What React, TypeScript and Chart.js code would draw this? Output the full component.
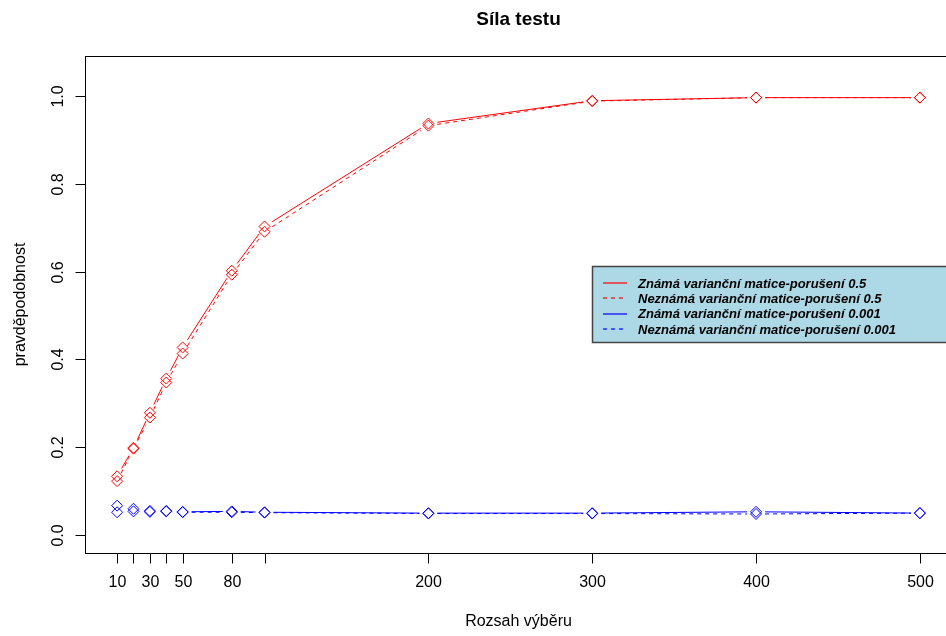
import React, { useEffect, useRef } from 'react';
import { Chart, registerables } from 'chart.js';

Chart.register(...registerables);

const sampleSizes = [10, 20, 30, 40, 50, 80, 100, 200, 300, 400, 500];
const knownHalf = [0.133, 0.198, 0.278, 0.356, 0.427, 0.602, 0.703, 0.938, 0.99, 0.997, 0.997];
const unknownHalf = [0.122, 0.196, 0.267, 0.347, 0.413, 0.593, 0.691, 0.933, 0.989, 0.997, 0.997];
const knownSmall = [0.066, 0.059, 0.054, 0.054, 0.052, 0.053, 0.051, 0.049, 0.049, 0.052, 0.049];
const unknownSmall = [0.051, 0.053, 0.052, 0.053, 0.051, 0.051, 0.05, 0.048, 0.048, 0.047, 0.049];

const xTicks = [10, 20, 30, 40, 50, 80, 100, 200, 300, 400, 500];
const xTickLabels = ['10', '', '30', '', '50', '80', '', '200', '300', '400', '500'];
const yTicks = [0, 0.2, 0.4, 0.6, 0.8, 1.0];
const yTickLabels = ['0.0', '0.2', '0.4', '0.6', '0.8', '1.0'];

const seriesLabels = [
  'Známá varianční matice-porušení 0.5',
  'Neznámá varianční matice-porušení 0.5',
  'Známá varianční matice-porušení 0.001',
  'Neznámá varianční matice-porušení 0.001',
];
const titleText = 'Síla testu';
const xTitle = 'Rozsah výběru';
const yTitle = 'pravděpodobnost';

const RED = 'rgb(255,0,0)';
const BLUE = 'rgb(0,0,255)';
const seriesColors = [RED, RED, BLUE, BLUE];
const seriesDashes = [[], [4, 4], [], [4, 4]];
const FONT = '"Liberation Sans", Arial, sans-serif';
const GAP = 9;

const gapLines = {
  id: 'gapLines',
  beforeDatasetsDraw(chart: any) {
    const ctx = chart.ctx;
    const a = chart.chartArea;
    ctx.save();
    ctx.beginPath();
    ctx.rect(a.left, a.top, a.right - a.left, a.bottom - a.top);
    ctx.clip();
    chart.data.datasets.forEach((_ds: any, i: number) => {
      const pts = chart.getDatasetMeta(i).data;
      ctx.strokeStyle = seriesColors[i];
      ctx.lineWidth = 1;
      ctx.setLineDash(seriesDashes[i]);
      for (let k = 0; k < pts.length - 1; k++) {
        const p = pts[k];
        const q = pts[k + 1];
        const dx = q.x - p.x;
        const dy = q.y - p.y;
        const L = Math.hypot(dx, dy);
        if (L <= 2 * GAP) continue;
        const ux = dx / L;
        const uy = dy / L;
        ctx.beginPath();
        ctx.moveTo(p.x + ux * GAP, p.y + uy * GAP);
        ctx.lineTo(q.x - ux * GAP, q.y - uy * GAP);
        ctx.stroke();
      }
    });
    ctx.restore();
  },
};

const decor = {
  id: 'decor',
  afterDraw(chart: any) {
    const ctx = chart.ctx;
    const a = chart.chartArea;
    const xs = chart.scales.x;
    const ys = chart.scales.y;
    ctx.save();
    ctx.setLineDash([]);
    ctx.strokeStyle = '#000';
    ctx.lineWidth = 1;
    ctx.strokeRect(Math.round(a.left) + 0.5, Math.round(a.top) + 0.5, Math.round(a.right - a.left), Math.round(a.bottom - a.top));
    ctx.fillStyle = '#000';
    ctx.font = `16px ${FONT}`;
    ctx.textAlign = 'center';
    ctx.textBaseline = 'alphabetic';
    const by = Math.round(a.bottom) + 0.5;
    xTicks.forEach((v, i) => {
      const px = Math.round(xs.getPixelForValue(v)) + 0.5;
      ctx.beginPath();
      ctx.moveTo(px, by);
      ctx.lineTo(px, by + 10);
      ctx.stroke();
      if (xTickLabels[i]) ctx.fillText(xTickLabels[i], px, 587);
    });
    const lx = Math.round(a.left) + 0.5;
    yTicks.forEach((v, i) => {
      const py = Math.round(ys.getPixelForValue(v)) + 0.5;
      ctx.beginPath();
      ctx.moveTo(lx - 10, py);
      ctx.lineTo(lx, py);
      ctx.stroke();
      ctx.save();
      ctx.translate(63, py);
      ctx.rotate(-Math.PI / 2);
      ctx.textAlign = 'center';
      ctx.textBaseline = 'alphabetic';
      ctx.fillText(yTickLabels[i], 0, 0);
      ctx.restore();
    });
    const cx = (a.left + a.right) / 2;
    const cy = (a.top + a.bottom) / 2;
    ctx.font = `bold 19px ${FONT}`;
    ctx.textAlign = 'center';
    ctx.fillText(titleText, cx, 25);
    ctx.font = `16px ${FONT}`;
    ctx.fillText(xTitle, cx, 626);
    ctx.save();
    ctx.translate(25, cy);
    ctx.rotate(-Math.PI / 2);
    ctx.textAlign = 'center';
    ctx.fillText(yTitle, 0, 0);
    ctx.restore();
    // legend
    const L = 592.5;
    const T = 266.5;
    const R = Math.round(a.right) + 0.5;
    const B = 342.5;
    ctx.fillStyle = '#add8e6';
    ctx.fillRect(L, T, R - L, B - T);
    ctx.strokeStyle = '#444';
    ctx.lineWidth = 1.5;
    ctx.strokeRect(L, T, R - L, B - T);
    const rowY = [283, 298.3, 313.6, 329];
    seriesLabels.forEach((label, i) => {
      ctx.save();
      ctx.strokeStyle = seriesColors[i];
      ctx.lineWidth = 1.2;
      ctx.setLineDash(seriesDashes[i]);
      ctx.beginPath();
      ctx.moveTo(603, Math.round(rowY[i]));
      ctx.lineTo(627, Math.round(rowY[i]));
      ctx.stroke();
      ctx.restore();
      ctx.fillStyle = '#000';
      ctx.font = `italic bold 13px ${FONT}`;
      ctx.textAlign = 'left';
      ctx.textBaseline = 'middle';
      ctx.fillText(label, 638, rowY[i] + 1);
    });
    ctx.restore();
  },
};

function makeDataset(i: number, values: number[]) {
  return {
    label: seriesLabels[i],
    data: sampleSizes.map((x, k) => ({ x, y: values[k] })),
    borderColor: seriesColors[i],
    showLine: false,
    pointStyle: 'rectRot',
    pointRadius: 5.5,
    pointBorderWidth: 1,
    pointBorderColor: seriesColors[i],
    pointBackgroundColor: 'rgba(0,0,0,0)',
  };
}

export default function App() {
  const ref = useRef<HTMLCanvasElement | null>(null);
  useEffect(() => {
    if (!ref.current) return;
    const chart = new Chart(ref.current, {
      type: 'line',
      data: {
        datasets: [
          makeDataset(0, knownHalf),
          makeDataset(1, unknownHalf),
          makeDataset(2, knownSmall),
          makeDataset(3, unknownSmall),
        ] as any,
      },
      options: {
        animation: false,
        responsive: false,
        devicePixelRatio: 1,
        layout: { padding: { left: 85, right: 8, top: 56, bottom: 83 } },
        scales: {
          x: { type: 'linear', min: -9.6, max: 519.6, display: false },
          y: { type: 'linear', min: -0.042, max: 1.092, display: false },
        },
        plugins: { legend: { display: false }, tooltip: { enabled: false }, title: { display: false } },
      },
      plugins: [gapLines, decor],
    });
    return () => chart.destroy();
  }, []);
  return (
    <div style={{ position: 'fixed', left: 0, top: 0, width: 946, height: 636, overflow: 'hidden', background: '#fff' }}>
      <canvas ref={ref} width={960} height={636} style={{ width: 960, height: 636, display: 'block' }} />
    </div>
  );
}
